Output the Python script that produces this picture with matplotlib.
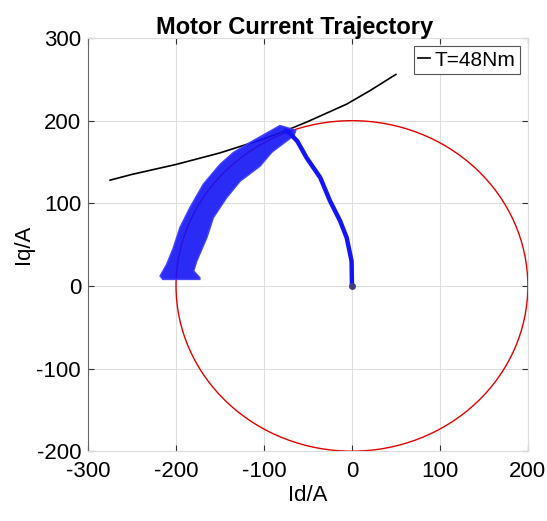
import matplotlib
matplotlib.use("Agg")
import matplotlib.pyplot as plt
from matplotlib.patches import Circle

plt.rcParams['font.family'] = ['Liberation Sans', 'DejaVu Sans']
plt.rcParams['axes.unicode_minus'] = False

# Current limit circle
limit_radius = 200

# Constant torque curve T=48Nm
torque_id = [-275, -250, -200, -150, -100, -75, -50, -6, 20, 50]
torque_iq = [128, 135, 147, 161, 178, 188, 199, 220, 236, 256]

# Narrow part of trajectory (starts at origin, rises to the circle)
traj_id = [0, -0.4, -6, -13.6, -25, -36, -51.5, -62, -70, -75]
traj_iq = [0, 30, 58.5, 79, 103, 131, 155, 175, 184, 188]

# Field-weakening band: outer edge then inner edge
band_outer_id = [-72, -81.8, -115.9, -134.8, -150, -169, -184, -195.5, -203, -210.6, -218, -215, -173]
band_outer_iq = [191, 194, 173.5, 161.4, 147, 123, 95, 70.6, 46, 26, 12, 8, 8]
band_inner_id = [-173, -180, -176.5, -165, -157.6, -142.4, -127, -104.5, -91, -66, -64]
band_inner_iq = [10, 18, 30, 58.5, 82.7, 107, 127, 145, 162, 182, 188]

fig = plt.figure(figsize=(5.47, 5.21), dpi=100)
ax = fig.add_axes([0.161, 0.134, 0.804, 0.793])

ax.add_patch(Circle((0, 0), limit_radius, fill=False, edgecolor='#e00000', lw=1.0, zorder=2))
ax.plot(torque_id, torque_iq, color='black', lw=1.2, label='T=48Nm', zorder=3)

ax.fill(band_outer_id + band_inner_id, band_outer_iq + band_inner_iq,
        color='#1414f5', alpha=0.9, lw=1.2, edgecolor='#3a3aff', zorder=4)
ax.plot(traj_id, traj_iq, color='#1414f5', lw=3.2, solid_capstyle='round', zorder=4)
ax.plot([traj_id[0]], [traj_iq[0]], 'o', color='#404080', ms=4, zorder=5)

ax.set_xlim(-300, 200)
ax.set_ylim(-200, 300)
ax.set_xticks([-300, -200, -100, 0, 100, 200])
ax.set_yticks([-200, -100, 0, 100, 200, 300])
ax.grid(True, color='#dedede', lw=0.8)
ax.set_axisbelow(True)
ax.tick_params(direction='in', labelsize=16, length=4, color='#333333',
               top=True, right=True)
ax.tick_params(axis='x', pad=7)
ax.tick_params(axis='y', pad=5)
for s in ax.spines.values():
    s.set_color('#dddddd')
ax.spines['left'].set_color('#666666')

ax.set_xlabel('Id/A', fontsize=16, labelpad=2)
ax.set_ylabel('Iq/A', fontsize=16, labelpad=2)
ax.set_title('Motor Current Trajectory', fontsize=17, fontweight='bold', pad=3, x=0.47)

leg = ax.legend(loc='upper right', fontsize=15, handlelength=0.6, handletextpad=0.2,
                borderpad=0.2, fancybox=False, framealpha=1, borderaxespad=0.4)
leg.get_frame().set_edgecolor('#555555')
leg.get_frame().set_linewidth(0.8)

fig.savefig('out.png', dpi=100)
